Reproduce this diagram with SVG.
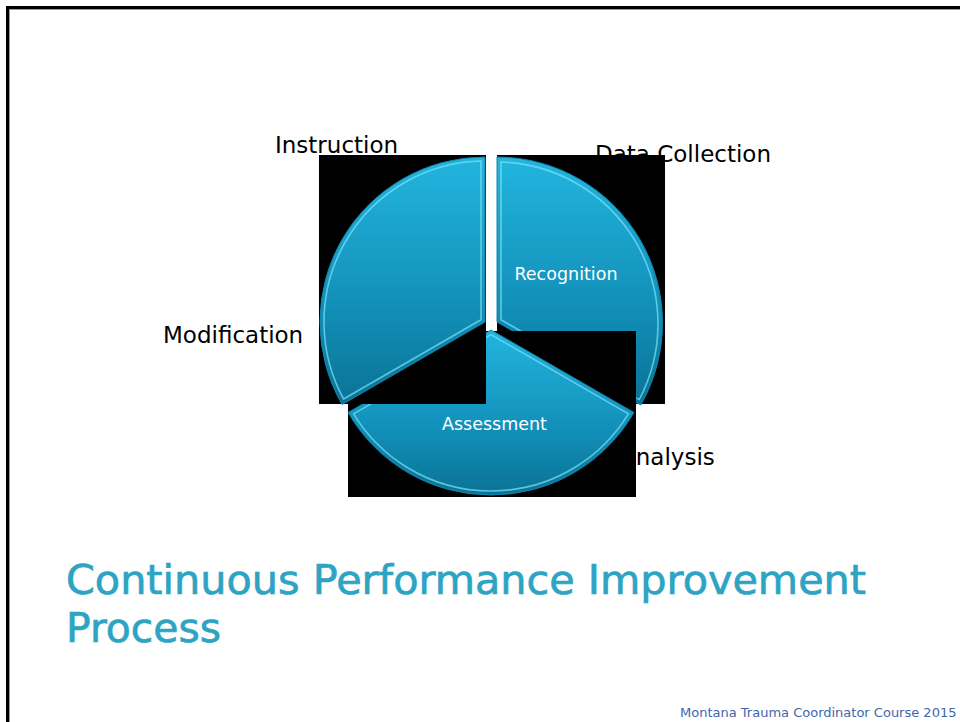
<svg xmlns="http://www.w3.org/2000/svg" width="960" height="722" viewBox="0 0 960 722">
  <style>
    .lbl { font-family: "DejaVu Sans", "Liberation Sans", sans-serif; font-size: 23px; fill: #000; }
    .in { font-family: "DejaVu Sans", "Liberation Sans", sans-serif; font-size: 17.5px; fill: #fff; text-anchor: middle; }
    .title { font-family: "DejaVu Sans", "Liberation Sans", sans-serif; font-size: 41px; fill: #2da4c3; stroke: #2da4c3; stroke-width: 0.7px; }
    .foot { font-family: "DejaVu Sans", "Liberation Sans", sans-serif; font-size: 13px; fill: #3f66ad; }
    .bg { fill: #000; }
    .wedge { fill: url(#wg); stroke: #0e88ad; stroke-width: 1; }
    .bevel { fill: none; stroke: #7fe2f6; stroke-width: 1.6; stroke-opacity: 0.7; stroke-linejoin: round; }
  </style>
  <defs>
    <linearGradient id="wg" x1="0" y1="0" x2="0" y2="1">
      <stop offset="0" stop-color="#22b5de"/>
      <stop offset="0.55" stop-color="#1393bc"/>
      <stop offset="1" stop-color="#0a7396"/>
    </linearGradient>
  </defs>
  <rect x="0" y="0" width="960" height="722" fill="#fff"/>
  <rect x="7.5" y="7.5" width="1000" height="1000" fill="none" stroke="#000" stroke-width="3"/>
  <rect x="9.5" y="9.5" width="1000" height="1000" fill="none" stroke="#9a9a9a" stroke-width="1"/>

  <g id="label-instruction"><text class="lbl" x="275" y="153">Instruction</text></g>
  <g id="label-data-collection"><text class="lbl" x="595" y="162">Data Collection</text></g>
  <g id="label-modification"><text class="lbl" x="163" y="343">Modification</text></g>
  <g id="label-analysis"><text class="lbl" x="620" y="465">Analysis</text></g>

  <g id="wedge-recognition">
    <rect class="bg" x="497" y="155" width="168" height="249"/>
    <path class="wedge" d="M497,322 L497,157 A166,166 0 0 1 640.8,405 Z"/>
    <path class="bevel" d="M501,319.7 L501,162 A162,162 0 0 1 639.2,399.6 Z"/>
    <text class="in" x="566" y="280">Recognition</text>
  </g>

  <g id="wedge-assessment">
    <rect class="bg" x="348" y="331" width="288" height="166"/>
    <path class="wedge" d="M491,330 L348.1,412.5 A165,165 0 0 0 633.9,412.5 Z"/>
    <path class="bevel" d="M491,334.6 L353.6,413.9 A161,161 0 0 0 628.4,413.9 Z"/>
    <text class="in" x="494.5" y="430">Assessment</text>
  </g>

  <g id="wedge-left">
    <rect class="bg" x="319" y="155" width="167" height="249"/>
    <path class="wedge" d="M485,322 L485,157 A165,165 0 0 0 342.1,404.5 Z"/>
    <path class="bevel" d="M481,319.7 L481,161.05 A161,161 0 0 0 343.6,399 Z"/>
  </g>

  <g id="title">
    <text class="title" x="66" y="594" textLength="800" lengthAdjust="spacingAndGlyphs">Continuous Performance Improvement</text>
    <text class="title" x="66" y="642" textLength="155" lengthAdjust="spacingAndGlyphs">Process</text>
  </g>
  <g id="footer"><text class="foot" x="680" y="717">Montana Trauma Coordinator Course 2015</text></g>
</svg>
